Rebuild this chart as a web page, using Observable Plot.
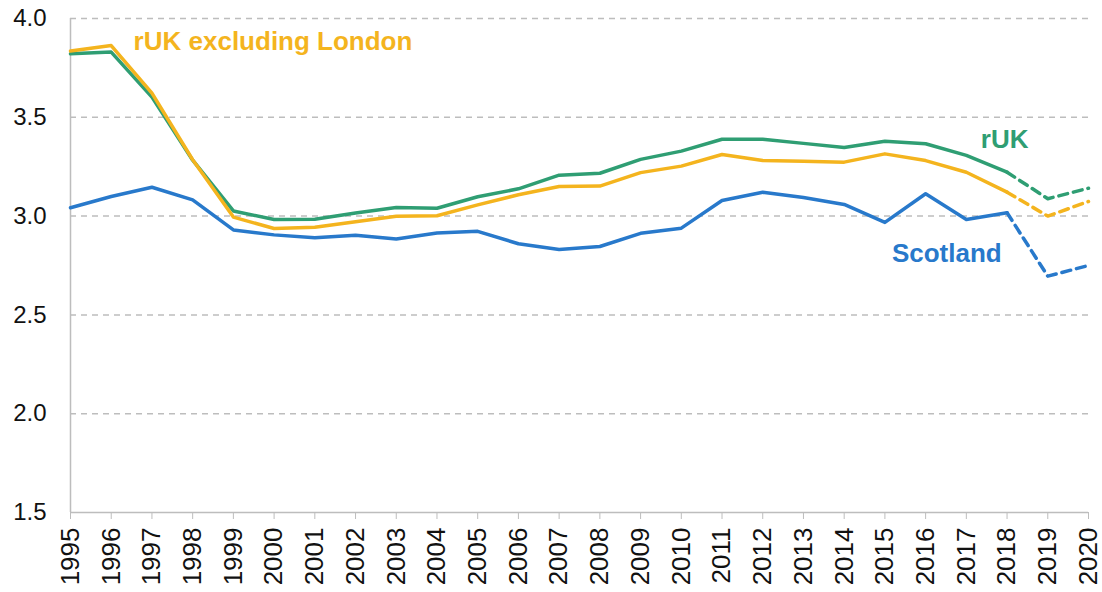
<!DOCTYPE html>
<html>
<head>
<meta charset="utf-8">
<script src="https://cdn.jsdelivr.net/npm/d3@7"></script>
<script src="https://cdn.jsdelivr.net/npm/@observablehq/plot@0.6"></script>
<style>
  html, body { margin: 0; padding: 0; background: #fff; }
  svg { display: block; }
  g[aria-label="y-axis tick label"] { font-size: 24px; }
  g[aria-label="x-axis tick label"] { font-size: 26px; }
</style>
</head>
<body>
<div id="chart"></div>
<script>
const years = [1995,1996,1997,1998,1999,2000,2001,2002,2003,2004,2005,2006,2007,2008,2009,2010,2011,2012,2013,2014,2015,2016,2017,2018,2019,2020];
const rUK = [3.821,3.830,3.602,3.283,3.026,2.983,2.984,3.016,3.043,3.040,3.098,3.138,3.207,3.217,3.287,3.329,3.389,3.389,3.368,3.347,3.379,3.366,3.307,3.222,3.088,3.141];
const rUKexLondon = [3.836,3.863,3.622,3.285,2.995,2.937,2.944,2.971,2.999,3.002,3.057,3.108,3.150,3.152,3.220,3.253,3.312,3.281,3.277,3.273,3.315,3.281,3.222,3.121,3.000,3.074];
const scotland = [3.042,3.099,3.146,3.082,2.930,2.905,2.890,2.903,2.884,2.915,2.923,2.860,2.831,2.846,2.913,2.939,3.079,3.121,3.094,3.059,2.968,3.113,2.983,3.017,2.696,2.750];
const seriesNames = ["rUK", "rUK excluding London", "Scotland"];
const seriesColors = ["#2f9e73", "#f4b41e", "#2879cb"];
const lastActual = 2018;
const yTicks = [1.5, 2.0, 2.5, 3.0, 3.5, 4.0];
const labelNames = ["rUK excluding London", "rUK", "Scotland"];
const labelYears = [1996.55, 2017.94, 2016.52];
const labelValues = [3.881, 3.388, 2.81];
const labelAnchors = ["start", "middle", "middle"];

const valuesBySeries = [rUK, rUKexLondon, scotland];
const rows = [];
seriesNames.forEach((s, i) => {
  years.forEach((y, j) => rows.push({series: s, year: y, value: valuesBySeries[i][j]}));
});
const solid = rows.filter(d => d.year <= lastActual);
const dashed = rows.filter(d => d.year >= lastActual);
const labels = labelNames.map((n, i) => ({name: n, year: labelYears[i], value: labelValues[i], anchor: labelAnchors[i]}));

const chart = Plot.plot({
  width: 1102,
  height: 592,
  marginLeft: 70,
  marginRight: 14,
  marginTop: 18,
  marginBottom: 80,
  style: {fontFamily: "'Liberation Sans', Arial, sans-serif", background: "#fff"},
  x: {type: "linear", domain: [1995, 2020]},
  y: {domain: [1.5, 4.0]},
  color: {domain: seriesNames, range: seriesColors},
  marks: [
    Plot.ruleY(yTicks.filter(t => t > 1.5), {stroke: "#bdbdbd", strokeWidth: 1.5, strokeDasharray: "6,5"}),
    Plot.ruleX([1995], {y1: 1.5, y2: 4.0, stroke: "#bdbdbd", strokeWidth: 1.5}),
    Plot.ruleY([1.5], {stroke: "#bdbdbd", strokeWidth: 1.5}),
    Plot.axisY({ticks: yTicks, tickFormat: d3.format(".1f"), tickSize: 0, tickPadding: 24, fontSize: 24, label: null, color: "#111"}),
    Plot.axisX({ticks: years, tickFormat: d => String(d), tickRotate: -90, tickSize: 7, tickPadding: 8, fontSize: 26, label: null, stroke: "#bdbdbd", color: "#111"}),
    Plot.line(solid, {x: "year", y: "value", z: "series", stroke: "series", strokeWidth: 3.5}),
    Plot.line(dashed, {x: "year", y: "value", z: "series", stroke: "series", strokeWidth: 3.5, strokeDasharray: "9,6"}),
    ...labels.map(l => Plot.text([l], {x: "year", y: "value", text: "name", fill: "name", textAnchor: l.anchor, fontSize: 26, fontWeight: "bold"}))
  ]
});
document.getElementById("chart").append(chart);
</script>
</body>
</html>
